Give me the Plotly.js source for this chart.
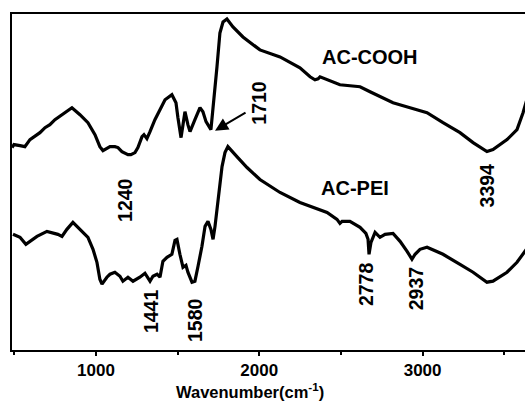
<!DOCTYPE html>
<html>
<head>
<meta charset="utf-8">
<script src="https://cdn.plot.ly/plotly-3.0.1.min.js"></script>
<style>
  html, body { margin: 0; padding: 0; background: #fff; }
  #chart { width: 525px; height: 401px; }
</style>
</head>
<body>
<div id="chart"></div>
<script>
// FTIR spectra (transmittance, arbitrary units, curves offset vertically)
const wavenumberCOOH = [486, 498, 535, 565, 596, 657, 688, 718, 749, 792, 822, 853, 902, 951, 994, 1024, 1043, 1055, 1086, 1116, 1135, 1159, 1196, 1214, 1239, 1257, 1282, 1294, 1312, 1331, 1361, 1392, 1423, 1465, 1490, 1502, 1521, 1533, 1545, 1563, 1576, 1606, 1637, 1655, 1674, 1704, 1717, 1741, 1759, 1778, 1802, 1839, 1900, 2004, 2127, 2249, 2311, 2341, 2360, 2372, 2494, 2617, 2678, 2819, 2923, 3027, 3125, 3229, 3309, 3394, 3431, 3517, 3578, 3615, 3658];
const signalCOOH = [203, 206, 205, 204, 211, 218, 223, 226, 231, 236, 239, 243, 236, 228, 216, 204, 200, 201, 204, 204, 203, 199, 196, 196, 198, 203, 214, 216, 212, 219, 231, 241, 251, 256, 248, 233, 213, 226, 239, 226, 219, 231, 243, 239, 229, 221, 241, 284, 318, 329, 332, 324, 314, 301, 294, 283, 274, 271, 272, 274, 266, 264, 259, 248, 243, 238, 228, 218, 208, 199, 201, 211, 221, 238, 262];

const wavenumberPEI = [492, 535, 571, 596, 639, 700, 767, 792, 822, 859, 902, 951, 982, 1006, 1024, 1037, 1067, 1086, 1116, 1147, 1165, 1196, 1227, 1269, 1300, 1331, 1349, 1374, 1392, 1410, 1435, 1465, 1484, 1496, 1514, 1533, 1551, 1563, 1588, 1606, 1625, 1649, 1668, 1686, 1704, 1717, 1729, 1747, 1772, 1790, 1808, 1863, 1925, 2004, 2127, 2249, 2329, 2415, 2476, 2494, 2507, 2555, 2617, 2653, 2666, 2672, 2684, 2709, 2739, 2770, 2819, 2862, 2905, 2935, 2954, 2984, 3027, 3125, 3229, 3309, 3394, 3431, 3517, 3578, 3627, 3658];
const signalPEI = [116, 113, 106, 109, 114, 119, 116, 114, 121, 128, 121, 113, 101, 88, 71, 66, 73, 76, 78, 74, 69, 73, 69, 73, 77, 69, 74, 76, 73, 89, 93, 96, 110, 111, 96, 83, 85, 78, 68, 69, 84, 104, 124, 129, 121, 111, 124, 151, 184, 198, 204, 194, 183, 171, 158, 148, 143, 138, 131, 127, 129, 129, 123, 117, 111, 96, 108, 118, 113, 116, 117, 109, 99, 91, 96, 101, 103, 96, 86, 78, 68, 69, 78, 88, 99, 106];

// Peak labels: text and placement (wavenumber, signal units)
const peakLabels = ['1240', '1441', '1580', '1710', '2778', '2937', '3394'];
const peakLabelX = [1181, 1337, 1606, 1998, 2653, 2960, 3400];
const peakLabelY = [150, 39, 30, 248, 66, 61, 165];

const seriesNames = ['AC-COOH', 'AC-PEI'];
const seriesNameX = [2678, 2586];
const seriesNameY = [294, 162];

const xTicks = [1000, 2000, 3000];
const xTitle = 'Wavenumber(cm<sup>-1</sup>)';

const FONT = 'Arial, "Liberation Sans", sans-serif';

const traces = [
  { x: wavenumberCOOH, y: signalCOOH, name: seriesNames[0] },
  { x: wavenumberPEI, y: signalPEI, name: seriesNames[1] }
].map(t => Object.assign(t, {
  type: 'scatter', mode: 'lines',
  line: { color: '#000', width: 3.2, shape: 'linear' },
  showlegend: false, hoverinfo: 'skip'
}));

const annotations = [];
peakLabels.forEach((t, i) => annotations.push({
  x: peakLabelX[i], y: peakLabelY[i], xref: 'x', yref: 'y',
  text: t, showarrow: false, textangle: -90,
  font: { family: FONT, size: 19.5, color: '#000', weight: 'bold' }
}));
seriesNames.forEach((t, i) => annotations.push({
  x: seriesNameX[i], y: seriesNameY[i], xref: 'x', yref: 'y',
  text: t, showarrow: false,
  font: { family: FONT, size: 20, color: '#000', weight: 'bold' }
}));
// arrow pointing at the 1710 carbonyl band
annotations.push({
  x: 1729, y: 220, xref: 'x', yref: 'y',
  ax: 1925, ay: 239, axref: 'x', ayref: 'y',
  text: '', showarrow: true, arrowhead: 2, arrowsize: 1.3, arrowwidth: 2, arrowcolor: '#000'
});

const layout = {
  width: 525, height: 401,
  margin: { l: 12, r: 0, t: 14, b: 51 },
  paper_bgcolor: '#fff', plot_bgcolor: '#fff',
  xaxis: {
    range: [486, 3627],
    tickvals: xTicks, ticktext: xTicks.map(String),
    ticks: 'outside', ticklen: 4, tickwidth: 2, tickcolor: '#000',
    minor: { dtick: 500, tick0: 0, ticks: 'outside', ticklen: 3, tickwidth: 2, tickcolor: '#000' },
    showline: true, linewidth: 2, linecolor: '#000', mirror: true,
    showgrid: false, zeroline: false,
    tickfont: { family: FONT, size: 17, color: '#000', weight: 'bold' }
  },
  yaxis: {
    range: [0, 337],
    showticklabels: false, ticks: '',
    showline: true, linewidth: 2, linecolor: '#000',
    showgrid: false, zeroline: false
  },
  annotations: annotations
};

// x-axis title, centred at pixel (250, 391), set slightly left of the plot centre
const plotW = layout.width - layout.margin.l - layout.margin.r;
const plotH = layout.height - layout.margin.t - layout.margin.b;
annotations.push({
  x: (250 - layout.margin.l) / plotW,
  y: (layout.height - layout.margin.b - 391) / plotH,
  xref: 'paper', yref: 'paper', xanchor: 'center', yanchor: 'middle',
  text: xTitle, showarrow: false,
  font: { family: FONT, size: 16.5, color: '#000', weight: 'bold' }
});

Plotly.newPlot('chart', traces, layout, { staticPlot: true, displayModeBar: false });
</script>
</body>
</html>
